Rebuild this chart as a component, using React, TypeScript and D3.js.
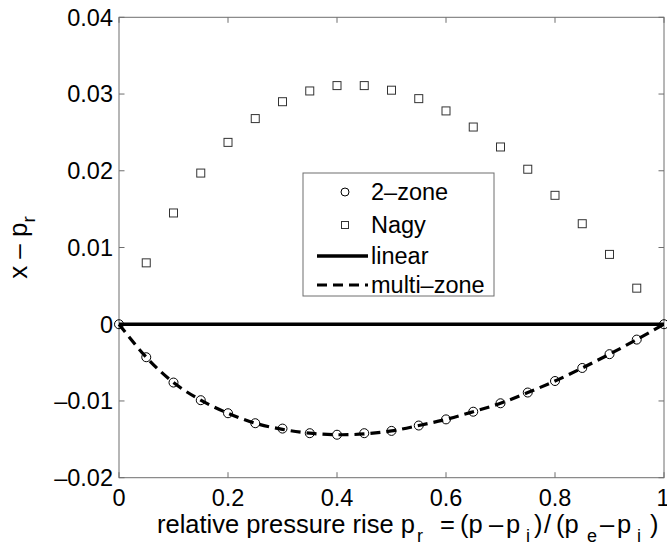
import React from "react";
import * as d3 from "d3";

const prValues = [0, 0.05, 0.1, 0.15, 0.2, 0.25, 0.3, 0.35, 0.4, 0.45, 0.5, 0.55, 0.6, 0.65, 0.7, 0.75, 0.8, 0.85, 0.9, 0.95, 1];
const twoZone = [0, -0.0043, -0.0076, -0.0099, -0.0116, -0.0129, -0.0136, -0.0142, -0.0144, -0.0142, -0.0139, -0.0132, -0.0124, -0.0114, -0.0103, -0.0089, -0.0074, -0.0057, -0.0039, -0.002, 0];
const multiZone = [0, -0.0043, -0.0076, -0.0099, -0.0116, -0.0129, -0.0137, -0.0142, -0.0144, -0.0143, -0.0139, -0.0132, -0.0124, -0.0114, -0.0103, -0.0089, -0.0074, -0.0057, -0.0039, -0.002, 0];
const nagyX = [0.05, 0.1, 0.15, 0.2, 0.25, 0.3, 0.35, 0.4, 0.45, 0.5, 0.55, 0.6, 0.65, 0.7, 0.75, 0.8, 0.85, 0.9, 0.95];
const nagy = [0.008, 0.0145, 0.0197, 0.0237, 0.0268, 0.029, 0.0304, 0.0311, 0.0311, 0.0305, 0.0294, 0.0278, 0.0257, 0.0231, 0.0202, 0.0168, 0.0131, 0.0091, 0.0047];
const linearX = [0, 1];
const linearY = [0, 0];
const xTicks = [0, 0.2, 0.4, 0.6, 0.8, 1];
const xTickLabels = ["0", "0.2", "0.4", "0.6", "0.8", "1"];
const yTicks = [-0.02, -0.01, 0, 0.01, 0.02, 0.03, 0.04];
const yTickLabels = ["\u20130.02", "\u20130.01", "0", "0.01", "0.02", "0.03", "0.04"];
const legendLabels = ["2\u2013zone", "Nagy", "linear", "multi\u2013zone"];

const FONT = "'Liberation Sans', Arial, Helvetica, sans-serif";

export default function App() {
  const W = 667, H = 547;
  const L = 119, R = 664, T = 17.3, B = 477.7;
  const x = d3.scaleLinear().domain([0, 1]).range([L, R]);
  const y = d3.scaleLinear().domain([-0.02, 0.04]).range([B, T]);
  const axisColor = "#6e6e6e";
  const tickLen = 5.5;

  const lineGen = d3.line<[number, number]>().x(d => x(d[0])).y(d => y(d[1]));
  const curveGen = d3.line<[number, number]>().x(d => x(d[0])).y(d => y(d[1])).curve(d3.curveCatmullRom.alpha(0.5));
  const linearPts = linearX.map((v, i) => [v, linearY[i]] as [number, number]);
  const multiPts = prValues.map((v, i) => [v, multiZone[i]] as [number, number]);

  const sq = 8;
  const cr = 4.5;

  const lgX = 303, lgY = 173, lgW = 191, lgH = 123;
  const rowsY = [192, 225, 256, 285];
  const symX = 345;
  const lineX1 = 317, lineX2 = 368;
  const textX = 371;

  const lb = 533; // x-label baseline
  const sb = lb + 9; // subscript baseline

  return (
    <svg width={W} height={H} style={{ display: "block", position: "absolute", left: 0, top: 0 }} fontFamily={FONT}>
      <rect x={0} y={0} width={W} height={H} fill="#fff" />
      <rect x={L} y={T} width={R - L} height={B - T} fill="none" stroke={axisColor} strokeWidth={1} />
      {xTicks.map((t, i) => (
        <g key={"xt" + i}>
          <line x1={x(t)} x2={x(t)} y1={B} y2={B - tickLen} stroke={axisColor} />
          <line x1={x(t)} x2={x(t)} y1={T} y2={T + tickLen} stroke={axisColor} />
          <text x={i === xTicks.length - 1 ? x(t) - 1 : x(t)} y={506} textAnchor="middle" fontSize={23.5} fill="#000">{xTickLabels[i]}</text>
        </g>
      ))}
      {yTicks.map((t, i) => (
        <g key={"yt" + i}>
          <line x1={L} x2={L + tickLen} y1={y(t)} y2={y(t)} stroke={axisColor} />
          <line x1={R} x2={R - tickLen} y1={y(t)} y2={y(t)} stroke={axisColor} />
          <text x={113} y={y(t) + 8.4} textAnchor="end" fontSize={23.5} fill="#000">{yTickLabels[i]}</text>
        </g>
      ))}

      <path d={lineGen(linearPts) || ""} fill="none" stroke="#000" strokeWidth={3.5} />
      <path d={curveGen(multiPts) || ""} fill="none" stroke="#000" strokeWidth={3.2} strokeDasharray="10,6" />
      {prValues.map((v, i) => (
        <circle key={"c" + i} cx={x(v)} cy={y(twoZone[i])} r={cr} fill="none" stroke="#000" strokeWidth={1} />
      ))}
      {nagyX.map((v, i) => (
        <rect key={"s" + i} x={x(v) - sq / 2} y={y(nagy[i]) - sq / 2} width={sq} height={sq} fill="none" stroke="#333" strokeWidth={1} />
      ))}

      <rect x={lgX} y={lgY} width={lgW} height={lgH} fill="#fff" stroke={axisColor} strokeWidth={1} />
      <circle cx={symX} cy={rowsY[0]} r={4} fill="none" stroke="#000" strokeWidth={1} />
      <rect x={symX - 3.5} y={rowsY[1] - 3.5} width={7} height={7} fill="none" stroke="#333" strokeWidth={1} />
      <line x1={lineX1} x2={lineX2} y1={rowsY[2]} y2={rowsY[2]} stroke="#000" strokeWidth={3.5} />
      <line x1={lineX1} x2={lineX2} y1={rowsY[3]} y2={rowsY[3]} stroke="#000" strokeWidth={3.2} strokeDasharray="10,6" />
      {legendLabels.map((lab, i) => (
        <text key={"lg" + i} x={textX} y={rowsY[i] + 8.4} fontSize={23.5} fill="#000">{lab}</text>
      ))}

      <text fontSize={25.5} fill="#000">
        <tspan x={157} y={lb}>relative pressure rise p</tspan>
        <tspan x={417} y={sb} fontSize={18}>r</tspan>
        <tspan x={440} y={lb}>=</tspan>
        <tspan x={460} y={lb}>(p</tspan>
        <tspan x={489} y={lb}>{"\u2013"}</tspan>
        <tspan x={506} y={lb}>p</tspan>
        <tspan x={526} y={sb} fontSize={18}>i</tspan>
        <tspan x={534} y={lb}>)</tspan>
        <tspan x={544} y={lb}>/</tspan>
        <tspan x={556} y={lb}>(p</tspan>
        <tspan x={587} y={sb} fontSize={18}>e</tspan>
        <tspan x={600} y={lb}>{"\u2013"}</tspan>
        <tspan x={617} y={lb}>p</tspan>
        <tspan x={637} y={sb} fontSize={18}>i</tspan>
        <tspan x={650} y={lb}>)</tspan>
      </text>

      <text transform={`translate(27, ${(T + B) / 2}) rotate(-90)`} textAnchor="middle" fontSize={26} fill="#000">
        x {"\u2013"} p<tspan dy={8} fontSize={19}>r</tspan>
      </text>
    </svg>
  );
}
